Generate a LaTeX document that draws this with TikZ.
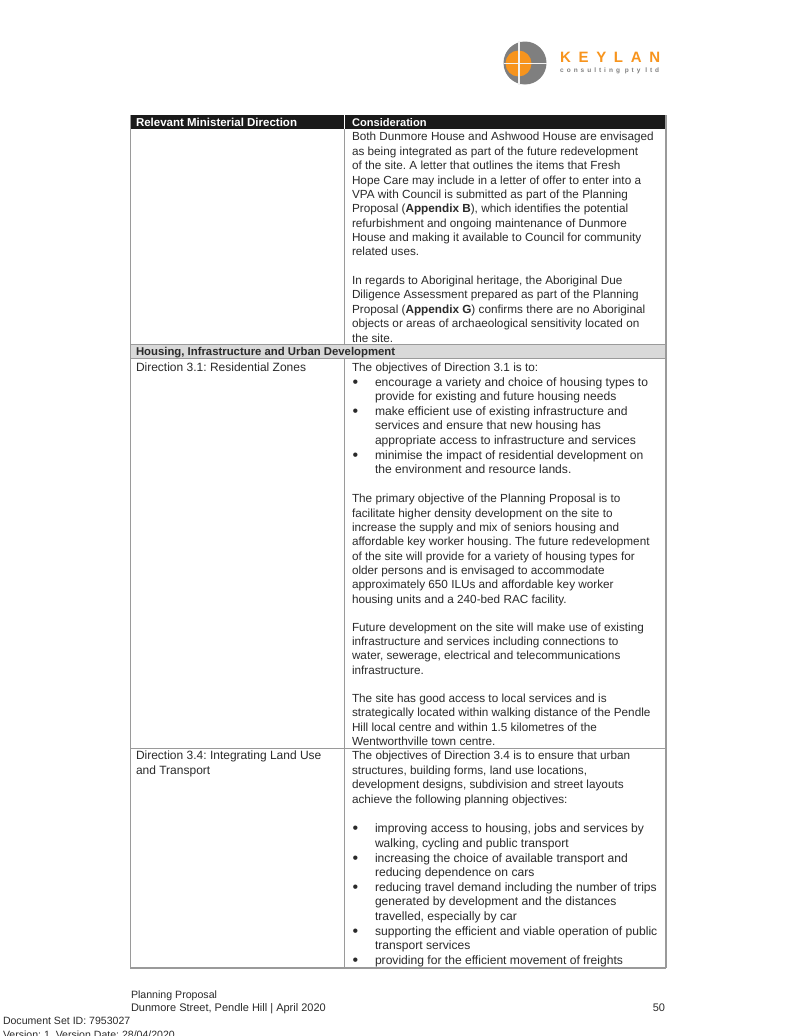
\documentclass[tikz,border=0pt]{standalone}
\usepackage{fontspec}
\setmainfont{Liberation Sans}
\frenchspacing
\definecolor{ink}{HTML}{2A2A2A}
\definecolor{rule}{HTML}{9A9A9A}
\definecolor{headbar}{HTML}{1A1A1A}
\definecolor{band}{HTML}{D9D9D9}
\definecolor{logoor}{HTML}{F7941D}
\definecolor{logogr}{HTML}{7F7F7F}
\newcount\linecnt
\newcommand{\tl}[3]{\global\advance\linecnt by 1
  \node[txt] (t\the\linecnt) at (#1,#2+4) {#3};}
\newcommand{\tll}[3]{\global\advance\linecnt by 1
  \node[txtl] (t\the\linecnt) at (#1,#2+4) {#3};}
\newcommand{\tlb}[2]{\global\advance\linecnt by 1
  \node[txtb] (t\the\linecnt) at (375,#1+4) {#2};}
\newcommand{\bl}[2]{\global\advance\linecnt by 1
  \node[bul] (b\the\linecnt) at (352.5,#1+5) {•};
  \node[txtb] (t\the\linecnt) at (375,#1+4) {#2};}
\newcommand{\tlf}[4]{\global\advance\linecnt by 1
  \node[txt,font=\fontsize{#4}{13}\selectfont] (t\the\linecnt) at (#1,#2+4) {#3};}
\begin{document}
\begin{tikzpicture}[x=1pt,y=-1pt,
  txt/.style={anchor=base west,inner sep=0pt,outer sep=0pt,text=ink,font=\fontsize{11.75}{13}\selectfont},
  txtl/.style={txt,font=\fontsize{12}{13}\selectfont},
  txtb/.style={txt,font=\fontsize{12.1}{13}\selectfont},
  bul/.style={txt,font=\fontsize{16}{13}\selectfont},
  rulel/.style={draw=rule,line width=1.3pt},
  rulet/.style={draw=rule,line width=1pt}]
\useasboundingbox (0,0) rectangle (796,1036);
% logo
\fill[logogr] (525,63) circle (21.5);
\fill[logoor] (518.5,63.5) circle (13);
\draw[white!90!logogr,line width=1.5pt] (519,41) -- (519,85);
\draw[white!90!logogr,line width=1.5pt] (503.5,63.5) -- (546.5,63.5);
\node[anchor=base west,inner sep=0pt,text=logoor,font=\fontsize{15}{15}\bfseries\selectfont\addfontfeature{LetterSpace=51}] (keylan) at (560,62.5) {KEYLAN};
\node[anchor=base west,inner sep=0pt,text=logogr,font=\fontsize{6.5}{7}\bfseries\selectfont\addfontfeature{LetterSpace=46}] (pty) at (560,72.5) {consulting pty ltd};
% table
\fill[headbar] (130,115) rectangle (666,129);
\fill[band] (130,344.5) rectangle (666,358.5);
\draw[rulel] (130.5,115) -- (130.5,968);
\draw[rulel] (666,115) -- (666,968);
\draw[rulel] (344.5,129) -- (344.5,344.5);
\draw[rulel] (344.5,358.5) -- (344.5,968);
\draw[white,line width=1pt] (344.5,115) -- (344.5,129);
\draw[rulet] (130,344.5) -- (666,344.5);
\draw[rulet] (130,358.5) -- (666,358.5);
\draw[rulet] (130,748) -- (666,748);
\draw[rulel] (130,968) -- (666,968);
% header
\node[txt,text=white,font=\fontsize{11.5}{13}\bfseries\selectfont] (h1) at (136,126) {Relevant Ministerial Direction};
\node[txt,text=white,font=\fontsize{11.1}{13}\bfseries\selectfont] (h2) at (352,126) {Consideration};
\node[txt,font=\fontsize{11.35}{13}\bfseries\selectfont] (h3) at (136,355) {Housing, Infrastructure and Urban Development};
% body
\tl{352}{136}{Both Dunmore House and Ashwood House are envisaged}
\tl{352}{151}{as being integrated as part of the future redevelopment}
\tl{352}{165}{of the site. A letter that outlines the items that Fresh}
\tl{352}{180}{Hope Care may include in a letter of offer to enter into a}
\tl{352}{194}{VPA with Council is submitted as part of the Planning}
\tl{352}{208}{Proposal (\textbf{Appendix B}), which identifies the potential}
\tl{352}{223}{refurbishment and ongoing maintenance of Dunmore}
\tl{352}{237}{House and making it available to Council for community}
\tl{352}{251}{related uses.}
\tl{352}{280}{In regards to Aboriginal heritage, the Aboriginal Due}
\tl{352}{294}{Diligence Assessment prepared as part of the Planning}
\tl{352}{309}{Proposal (\textbf{Appendix G}) confirms there are no Aboriginal}
\tl{352}{323}{objects or areas of archaeological sensitivity located on}
\tl{352}{338}{the site.}
\tll{136}{367}{Direction 3.1: Residential Zones}
\tl{352}{367}{The objectives of Direction 3.1 is to:}
\bl{382}{encourage a variety and choice of housing types to}
\tlb{396}{provide for existing and future housing needs}
\bl{411}{make efficient use of existing infrastructure and}
\tlb{425}{services and ensure that new housing has}
\tlb{440}{appropriate access to infrastructure and services}
\bl{455}{minimise the impact of residential development on}
\tlb{469}{the environment and resource lands.}
\tl{352}{498}{The primary objective of the Planning Proposal is to}
\tl{352}{513}{facilitate higher density development on the site to}
\tl{352}{527}{increase the supply and mix of seniors housing and}
\tl{352}{541}{affordable key worker housing. The future redevelopment}
\tl{352}{556}{of the site will provide for a variety of housing types for}
\tl{352}{570}{older persons and is envisaged to accommodate}
\tl{352}{584}{approximately 650 ILUs and affordable key worker}
\tl{352}{599}{housing units and a 240-bed RAC facility.}
\tl{352}{627}{Future development on the site will make use of existing}
\tl{352}{641}{infrastructure and services including connections to}
\tl{352}{655}{water, sewerage, electrical and telecommunications}
\tl{352}{670}{infrastructure.}
\tl{352}{698}{The site has good access to local services and is}
\tl{352}{712}{strategically located within walking distance of the Pendle}
\tl{352}{727}{Hill local centre and within 1.5 kilometres of the}
\tl{352}{741}{Wentworthville town centre.}
\tll{136}{755}{Direction 3.4: Integrating Land Use}
\tll{136}{770}{and Transport}
\tl{352}{755}{The objectives of Direction 3.4 is to ensure that urban}
\tl{352}{770}{structures, building forms, land use locations,}
\tl{352}{784}{development designs, subdivision and street layouts}
\tl{352}{799}{achieve the following planning objectives:}
\bl{828}{improving access to housing, jobs and services by}
\tlb{843}{walking, cycling and public transport}
\bl{858}{increasing the choice of available transport and}
\tlb{872}{reducing dependence on cars}
\bl{887}{reducing travel demand including the number of trips}
\tlb{901}{generated by development and the distances}
\tlb{916}{travelled, especially by car}
\bl{931}{supporting the efficient and viable operation of public}
\tlb{945}{transport services}
\bl{960}{providing for the efficient movement of freights}
% footer
\tlf{131}{994}{Planning Proposal}{10.6}
\tlf{131}{1007}{Dunmore Street, Pendle Hill | April 2020}{11}
\node[txt,anchor=base east,font=\fontsize{11}{13}\selectfont] (pg) at (665,1011) {50};
\tlf{3}{1020}{Document Set ID: 7953027}{10.55}
\tlf{3}{1034}{Version: 1, Version Date: 28/04/2020}{10.55}
\end{tikzpicture}
\end{document}
